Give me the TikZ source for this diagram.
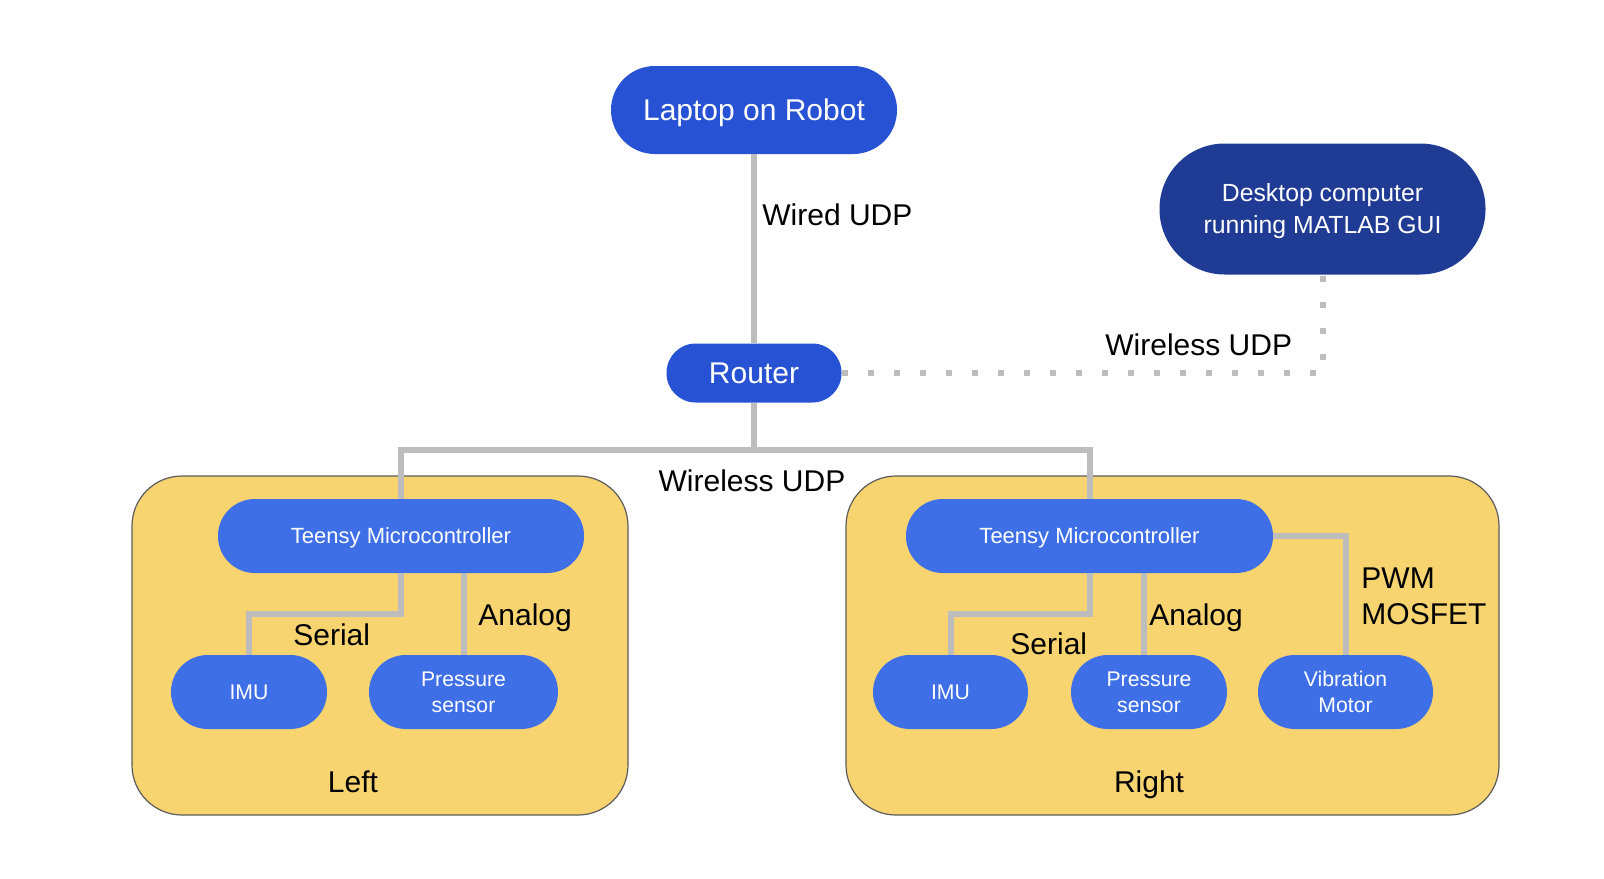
\documentclass[tikz,border=0pt]{standalone}
\usepackage{fontspec}
\setmainfont{Liberation Sans}
\definecolor{robotblue}{HTML}{2852D4}
\definecolor{deskblue}{HTML}{1F3B93}
\definecolor{nodeblue}{HTML}{3E6FE7}
\definecolor{boxfill}{HTML}{F7D470}
\definecolor{boxedge}{HTML}{5C5C5C}
\definecolor{wire}{HTML}{BDBDBD}
\begin{document}
\begin{tikzpicture}[x=0.5pt,y=-0.5pt,
  pill/.style={rectangle, inner sep=0pt, text=white, align=center, text depth=0pt},
  bigpill/.style={pill, fill=robotblue},
  subpill/.style={pill, fill=nodeblue, minimum height=37pt, rounded corners=18.4pt,
    font=\fontsize{10.6}{13}\selectfont},
  group/.style={fill=boxfill, draw=boxedge, line width=0.6pt, rounded corners=25pt},
  wire/.style={draw=wire, line width=3pt},
  radio/.style={draw=wire, line width=3pt, dash pattern=on 3pt off 10pt},
  lbl/.style={inner sep=0pt, font=\fontsize{15}{18}\selectfont}]

% canvas
\useasboundingbox (0,0) rectangle (1604,878);

% the two device groups
\draw[group] (132,476) rectangle (628,815);
\draw[group] (846,476) rectangle (1499,815);

% main nodes
\node[bigpill, minimum width=143pt, minimum height=44pt, rounded corners=21.9pt,
  font=\fontsize{15}{18}\selectfont] (laptop) at (754,110) {Laptop on Robot};
\node[pill, fill=deskblue, minimum width=163pt, minimum height=65.5pt, rounded corners=32.6pt,
  font=\fontsize{12.4}{16}\selectfont] (desk) at (1322.5,209) {Desktop computer\\running MATLAB GUI};
\node[bigpill, minimum width=87.5pt, minimum height=29.5pt, rounded corners=14.6pt,
  font=\fontsize{15}{18}\selectfont] (router) at (754,373) {Router};

% left group
\node[subpill, minimum width=183pt, font=\fontsize{11}{13}\selectfont] (lteensy) at (401,536) {Teensy Microcontroller};
\node[subpill, minimum width=78pt] (limu) at (249,692) {IMU};
\node[subpill, minimum width=94.5pt] (lpress) at (463.5,692) {Pressure\\sensor};

% right group
\node[subpill, minimum width=183.5pt, font=\fontsize{11}{13}\selectfont] (rteensy) at (1089.5,536) {Teensy Microcontroller};
\node[subpill, minimum width=77.5pt] (rimu) at (950.5,692) {IMU};
\node[subpill, minimum width=78pt] (rpress) at (1149,692) {Pressure\\sensor};
\node[subpill, minimum width=87.5pt] (vib) at (1345.5,692) {Vibration\\Motor};

% connectors
\coordinate (bus) at (754,450);
\draw[wire] (laptop.south) -- (router.north);
\draw[wire] (router.south) -- (bus) -| (lteensy.north);
\draw[wire] (bus) -| (rteensy.north);
\draw[radio] (router.east) -| (desk.south);

\draw[wire] (lteensy.south) -- ++(0,41) -| (limu.north);
\draw[wire] (lpress.north) -- (lpress.north |- lteensy.south);

\draw[wire] (rteensy.south) -- ++(0,41) -| (rimu.north);
\draw[wire] ([xshift=-2.5pt]rpress.north) -- ([xshift=-2.5pt]rpress.north |- rteensy.south);
\draw[wire] (rteensy.east) -| (vib.north);

% link labels
\node[lbl, anchor=base west] (wired) at (762,225) {Wired UDP};
\node[lbl, anchor=base west] (wlan1) at (1105,355) {Wireless UDP};
\node[lbl, anchor=base] (wlan2) at (752,491) {Wireless UDP};

\node[lbl, anchor=base west] (lserial) at (293,645) {Serial};
\node[lbl, anchor=base west] (lanalog) at (478,625) {Analog};
\node[lbl, anchor=base] (lname) at (353,792) {Left};

\node[lbl, anchor=base west] (rserial) at (1010,654) {Serial};
\node[lbl, anchor=base west] (ranalog) at (1149,625) {Analog};
\node[lbl, anchor=base west, align=left] (pwm) at (1361,624) {PWM\\MOSFET};
\node[lbl, anchor=base] (rname) at (1149,792) {Right};
\end{tikzpicture}
\end{document}
